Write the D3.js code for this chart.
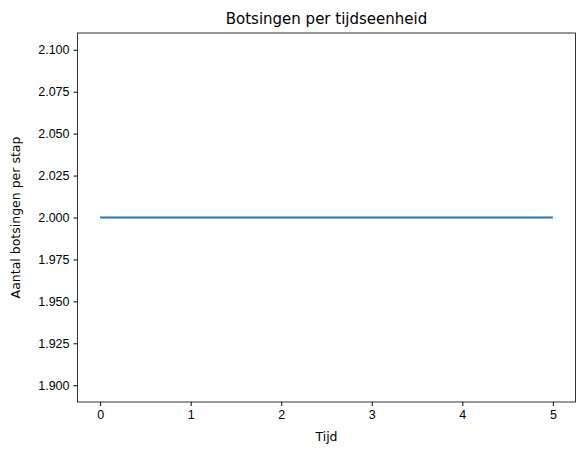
<!DOCTYPE html>
<html><head><meta charset="utf-8">
<script src="https://cdn.jsdelivr.net/npm/d3@7"></script>
<style>body{margin:0;background:#fff}svg{font-family:"DejaVu Sans",sans-serif}</style>
</head><body><svg id="c" width="584" height="455"></svg>
<script>
const times = [0, 1, 2, 3, 4, 5];
const collisions = [2, 2, 2, 2, 2, 2];
const xTicks = [0, 1, 2, 3, 4, 5];
const yTicks = [1.900, 1.925, 1.950, 1.975, 2.000, 2.025, 2.050, 2.075, 2.100];

const svg = d3.select("#c");
const L = 77.5, R = 575.5, T = 33, B = 402;
const x = d3.scaleLinear().domain([-0.25, 5.25]).range([L, R]);
const y = d3.scaleLinear().domain([1.89, 2.11]).range([B, T]);

const xa = svg.append("g").attr("transform", `translate(0,${B})`)
  .call(d3.axisBottom(x).tickValues(xTicks).tickFormat(d3.format("d")).tickSize(4).tickPadding(4));
const ya = svg.append("g").attr("transform", `translate(${L},0)`)
  .call(d3.axisLeft(y).tickValues(yTicks).tickFormat(d3.format(".3f")).tickSize(4).tickPadding(4));
[xa, ya].forEach(a => { a.selectAll("text").attr("font-size", 12.5).attr("fill", "#000");
  a.selectAll("line").attr("stroke", "#000"); a.select(".domain").remove(); });

svg.append("rect").attr("x", L).attr("y", T).attr("width", R - L).attr("height", B - T)
  .attr("fill", "none").attr("stroke", "#000").attr("stroke-width", 0.8);

svg.append("path").datum(times.map((t, i) => [t, collisions[i]]))
  .attr("d", d3.line().x(d => x(d[0])).y(d => y(d[1])))
  .attr("fill", "none").attr("stroke", "#1f77b4").attr("stroke-width", 1.8);

svg.append("text").attr("x", (L + R) / 2).attr("y", 24).attr("text-anchor", "middle")
  .attr("font-size", 15).text("Botsingen per tijdseenheid");
svg.append("text").attr("x", (L + R) / 2).attr("y", 441).attr("text-anchor", "middle")
  .attr("font-size", 12.5).text("Tijd");
svg.append("text").attr("transform", `translate(20,${(T + B) / 2}) rotate(-90)`)
  .attr("text-anchor", "middle").attr("font-size", 12.5).text("Aantal botsingen per stap");
</script></body></html>
